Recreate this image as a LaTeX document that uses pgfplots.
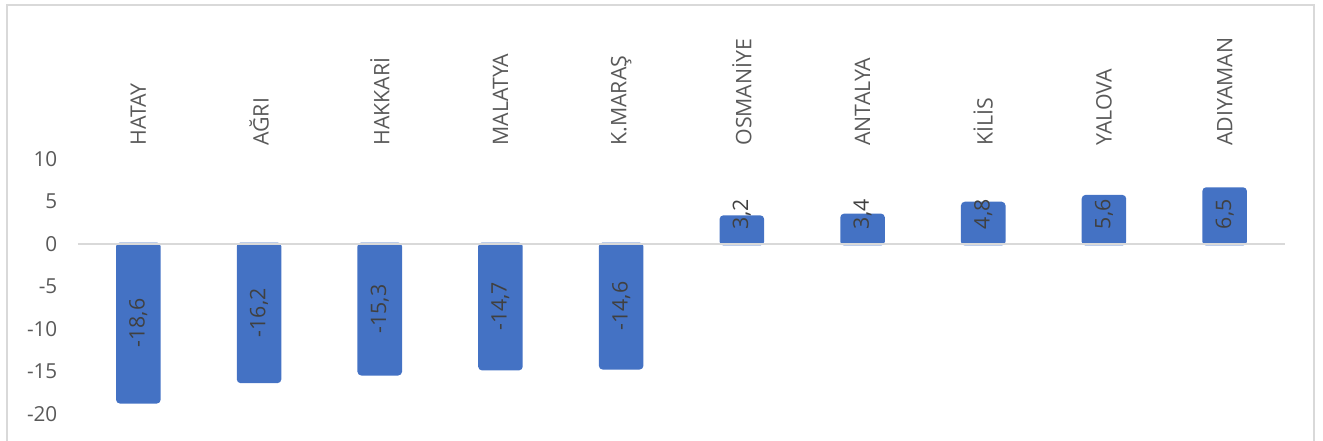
\documentclass[border=0pt]{standalone}
\usepackage{pgfplots}
\pgfplotsset{compat=1.18}
\usepackage{pgfplotstable}
\usepackage{fontspec}
\setmainfont{Open Sans}
\definecolor{barblue}{HTML}{4472C4}
\definecolor{axgray}{HTML}{595959}
\definecolor{valgray}{HTML}{404040}
\definecolor{linegray}{HTML}{D9D9D9}

% x = category index, y = value, ly = label position
\pgfplotstableread{
x y ly label
0 -18.6 -9.3 -18,6
1 -16.2 -8.1 -16,2
2 -15.3 -7.65 -15,3
3 -14.7 -7.35 -14,7
4 -14.6 -7.3 -14,6
5 3.2 3.5 3,2
6 3.4 3.5 3,4
7 4.8 3.5 4,8
8 5.6 3.5 5,6
9 6.5 3.5 6,5
}\data

\begin{document}
\begin{tikzpicture}
\useasboundingbox (0,0) rectangle (992.25pt,330.75pt);
\begin{axis}[
    at={(58.5pt,20.25pt)}, anchor=south west,
    scale only axis,
    width=905.25pt, height=191.25pt,
    xmin=-0.5, xmax=9.5,
    ymin=-20, ymax=10,
    ytick={-20,-15,...,10},
    xtick={0,...,9},
    xticklabels={HATAY, AĞRI, HAKKARİ, MALATYA, K.MARAŞ, OSMANİYE, ANTALYA, KİLİS, YALOVA, ADIYAMAN},
    xticklabel pos=upper,
    xticklabel style={rotate=90, anchor=west, font=\fontsize{16}{18}\selectfont, text=axgray},
    xticklabel shift=6.5pt,
    yticklabel style={font=\fontsize{15.5}{18}\selectfont, text=axgray, xshift=-12pt},
    axis line style={draw=none},
    major tick length=0pt,
    /pgf/number format/assume math mode=true,
    clip=false,
]
\addplot[ybar, bar shift=0pt, bar width=0.345, fill=barblue, draw=barblue,
    line width=2.2pt, rounded corners=2pt] table[x=x, y=y] {\data};
\addplot[draw=linegray, line width=1.2pt, mark=none] coordinates {(-0.5,0) (9.5,0)};
\addplot[draw=none, mark=none, nodes near coords, point meta=explicit symbolic,
    nodes near coords style={rotate=90, anchor=center, font=\fontsize{16}{18}\selectfont, text=valgray}]
    table[x=x, y=ly, meta=label] {\data};
\end{axis}
\draw[linegray, line width=1pt] (5.25pt,-10pt) rectangle (985.5pt,327pt);
\end{tikzpicture}
\end{document}
